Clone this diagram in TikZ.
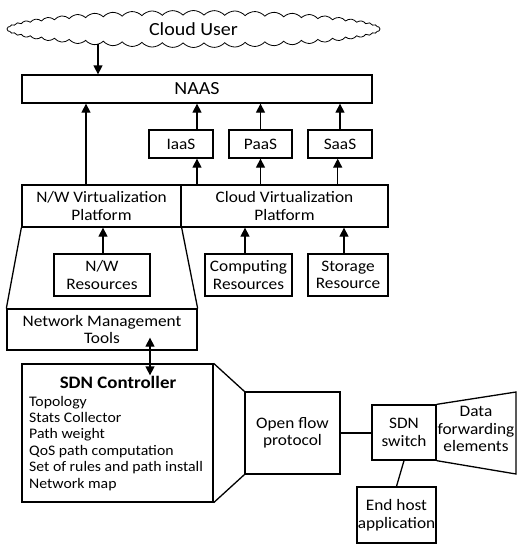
\documentclass[tikz,border=0pt]{standalone}
\usepackage{fontspec}
\setmainfont{Carlito}[FakeStretch=1.08]
\usetikzlibrary{arrows.meta,shapes.symbols,calc}
\begin{document}
\begin{tikzpicture}[x=1pt,y=-1pt,
  box/.style={draw,line width=1.3pt,inner sep=0pt,align=center,font=\fontsize{16}{17.5}\selectfont},
  sz/.style 2 args={minimum width=#1pt,minimum height=#2pt},
  arr/.style={line width=1.3pt,-{Triangle[length=9pt,width=9pt]}},
  dblarr/.style={line width=1.3pt,{Triangle[length=9pt,width=9pt]}-{Triangle[length=9pt,width=9pt]}},
  ln/.style={line width=1.3pt},
  bigtext/.style={font=\fontsize{18.5}{20}\selectfont},
  listitem/.style={anchor=base west,inner sep=0pt,font=\fontsize{14.6}{16}\selectfont},
  plain/.style={inner sep=0pt,align=center,font=\fontsize{16}{17.5}\selectfont}]
\useasboundingbox (0,0) rectangle (521,550);

% cloud
\node[draw,cloud,cloud puffs=56,cloud puff arc=95,aspect=9.8,
      minimum width=373pt,minimum height=37pt,inner sep=0pt,line width=0.8pt,bigtext] (cloud) at (193.5,29) {Cloud User};

% boxes
\node[box,sz={350}{28},bigtext] (naas) at (197,89) {NAAS};
\node[box,sz={64}{28}] (iaas) at (181,144) {IaaS};
\node[box,sz={63}{28}] (paas) at (260.5,144) {PaaS};
\node[box,sz={64}{28}] (saas) at (340,144) {SaaS};
\node[box,sz={159}{42}] (nwvp) at (101.5,206) {N/W Virtualization\\Platform};
\node[box,sz={207}{42}] (cvp) at (284.5,206) {Cloud Virtualization\\Platform};
\node[box,sz={96}{42}] (nwr) at (102,275) {N/W\\Resources};
\node[box,sz={87}{42}] (comp) at (248.5,275) {Computing\\Resources};
\node[box,sz={80}{42}] (stor) at (348,275) {Storage\\Resource};
\node[box,sz={190}{41}] (nmt) at (102,329.5) {Network Management\\Tools};
\node[box,sz={191}{138}] (sdn) at (117.5,433) {};
\node[box,sz={95}{82}] (ofp) at (292.5,433) {Open flow\\protocol};
\node[box,sz={64}{55}] (sw) at (404,432.5) {SDN\\switch};
\node[box,sz={79}{56}] (host) at (396.5,515) {End host\\application};

% SDN controller text
\node[inner sep=0pt,font=\fontsize{17.5}{19}\selectfont\bfseries,anchor=base] (sdnt) at (118,388) {SDN Controller};
\foreach \t [count=\i] in {Topology,Stats Collector,Path weight,QoS path computation,Set of rules and path install,Network map}
  \node[listitem] (li\i) at (29,{406+16.4*(\i-1)}) {\t};

% data forwarding trapezoid
\coordinate (dtr) at (516,392);
\coordinate (dbr) at (516,474);
\draw[ln] (sw.north east) -- (dtr) -- (dbr) -- (sw.south east);
\node[plain] (dfe) at (476,429) {Data\\forwarding\\elements};

% x positions
\coordinate (xa) at (98,44);
\coordinate (x1) at (86,0);
\coordinate (x2) at (197,0);
\coordinate (x3) at (260.5,0);
\coordinate (x4) at (340,0);
\coordinate (x4b) at (337.7,0);
\coordinate (x5) at (103,0);
\coordinate (x6) at (245,0);
\coordinate (x7) at (344,0);
\coordinate (x8) at (150,0);

% arrows
\draw[arr] (xa) -- (xa |- naas.north);
\draw[arr] (x1 |- nwvp.north) -- (x1 |- naas.south);
\draw[arr] (x2 |- iaas.north) -- (x2 |- naas.south);
\draw[arr] (x3 |- paas.north) -- (x3 |- naas.south);
\draw[arr] (x4 |- saas.north) -- (x4 |- naas.south);
\draw[arr] (x2 |- cvp.north) -- (x2 |- iaas.south);
\draw[arr] (x3 |- cvp.north) -- (x3 |- paas.south);
\draw[arr] (x4b |- cvp.north) -- (x4b |- saas.south);
\draw[arr] (x5 |- nwr.north) -- (x5 |- nwvp.south);
\draw[arr] (x6 |- comp.north) -- (x6 |- cvp.south);
\draw[arr] (x7 |- stor.north) -- (x7 |- cvp.south);
\draw[dblarr] ([yshift=13pt]x8 |- nmt.south) -- ([yshift=-12pt]x8 |- sdn.north);

% plain lines
\draw[ln] (nwvp.south west) -- (nmt.north west);
\draw[ln] (nwvp.south east) -- (nmt.north east);
\draw[ln] (sdn.north east) -- (ofp.north west);
\draw[ln] (sdn.south east) -- (ofp.south west);
\draw[ln] (ofp.east) -- (ofp.east -| sw.west);
\draw[ln] (sw.south) -- (host.north);
\end{tikzpicture}
\end{document}
